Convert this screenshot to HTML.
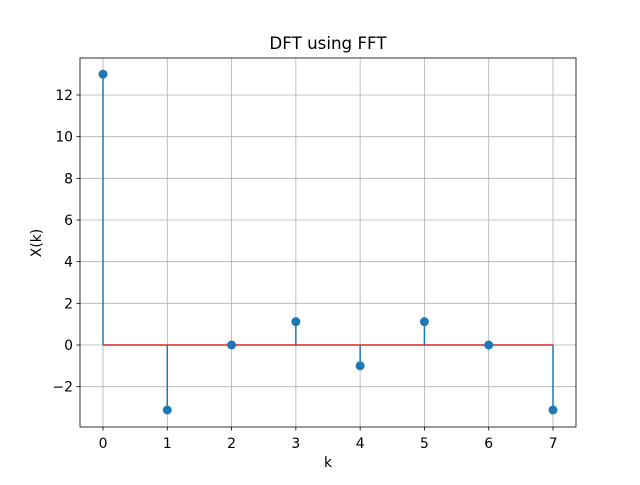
<!DOCTYPE html>
<html><head><meta charset="utf-8"><style>
body{margin:0;background:#fff;}
svg text{font-family:"DejaVu Sans","Liberation Sans",sans-serif;fill:#000;}
</style></head><body>
<svg id="chart" width="640" height="480" viewBox="0 0 640 480">
<rect width="640" height="480" fill="#fff"/>
<g id="grid"></g>
<g id="stems"></g>
<rect x="80" y="58" width="496" height="369" fill="none" stroke="#000" stroke-width="0.8"/>
<g id="ticks"></g>
<text x="328" y="49" font-size="16.7" text-anchor="middle">DFT using FFT</text>
<text x="328" y="467" font-size="13.9" text-anchor="middle">k</text>
<text x="41" y="243" font-size="13.9" text-anchor="middle" transform="rotate(-90 41 243)">X(k)</text>
</svg>
<script>
const categories=[0,1,2,3,4,5,6,7];
const values=[13,-3.12,0,1.12,-1,1.12,0,-3.12];
const xTicks=[0,1,2,3,4,5,6,7];
const yTicks=[-2,0,2,4,6,8,10,12];
const NS="http://www.w3.org/2000/svg";
function xs(v){return 103+v*(450/7);}
function ys(v){return 345-v*(250/12);}
function mk(tag,attrs,parent){const e=document.createElementNS(NS,tag);for(const k in attrs)e.setAttribute(k,attrs[k]);parent.appendChild(e);return e;}
const grid=document.getElementById('grid'),ticks=document.getElementById('ticks'),stems=document.getElementById('stems');
xTicks.forEach(t=>{const x=xs(t);
 const g=mk('line',{x1:x,x2:x,y1:58,y2:427,stroke:'#b0b0b0','stroke-width':0.8},grid);
 
 
 mk('line',{x1:x,x2:x,y1:427,y2:430.5,stroke:'#000','stroke-width':0.8},ticks);
 const l=mk('text',{x:x,y:448,'font-size':13.9,'text-anchor':'middle'},ticks);l.textContent=t;
 
 });
yTicks.forEach(t=>{const y=ys(t);
 const g=mk('line',{x1:80,x2:576,y1:y,y2:y,stroke:'#b0b0b0','stroke-width':0.8},grid);
 
 
 mk('line',{x1:76.5,x2:80,y1:y,y2:y,stroke:'#000','stroke-width':0.8},ticks);
 const l=mk('text',{x:73,y:y+5,'font-size':13.9,'text-anchor':'end'},ticks);l.textContent=t<0?'\u2212'+(-t):t;
 
 });
categories.forEach((c,i)=>{const x=xs(c);
 const s=mk('line',{x1:x,x2:x,y1:ys(0),y2:ys(values[i]),stroke:'#1f77b4','stroke-width':1.5},stems);
 
 });
const base=mk('line',{x1:xs(categories[0]),x2:xs(categories[categories.length-1]),y1:ys(0),y2:ys(0),stroke:'#d62728','stroke-width':1.5},stems);


categories.forEach((c,i)=>{
 const m=mk('circle',{cx:xs(c),cy:ys(values[i]),r:4.5,fill:'#1f77b4'},stems);
 
 });
</script>
</body></html>
